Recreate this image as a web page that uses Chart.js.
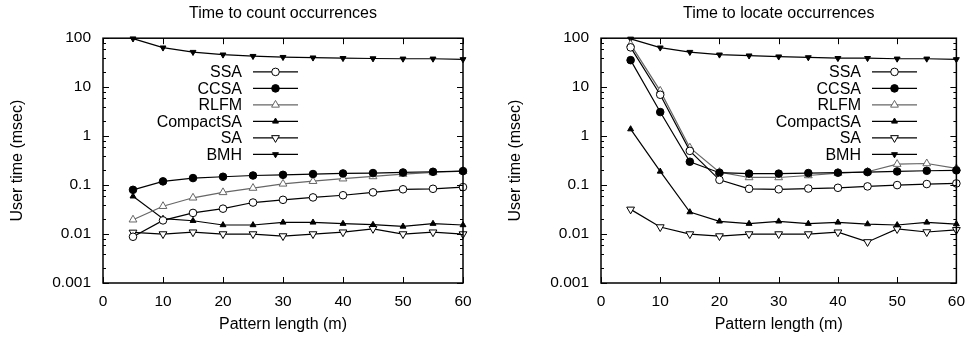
<!DOCTYPE html>
<html>
<head>
<meta charset="utf-8">
<script src="https://cdn.jsdelivr.net/npm/chart.js@4/dist/chart.umd.min.js"></script>
<style>
  html, body { margin: 0; padding: 0; background: #fff; }
  .row { display: flex; width: 974px; height: 337px; }
  .box { width: 487px; height: 337px; position: relative; }
</style>
</head>
<body>
<div class="row">
  <div class="box"><canvas id="graficoCount" width="487" height="337"></canvas></div>
  <div class="box"><canvas id="graficoLocate" width="487" height="337"></canvas></div>
</div>
<script>
// pattern length m (x axis)
const patternLengths = [5, 10, 15, 20, 25, 30, 35, 40, 45, 50, 55, 60];
const xTickValues = [0, 10, 20, 30, 40, 50, 60];
const yTickValues = [0.001, 0.01, 0.1, 1, 10, 100];

// time to count occurrences (msec)
const countSSA = [0.0088, 0.019, 0.027, 0.033, 0.044, 0.050, 0.056, 0.062, 0.071, 0.082, 0.084, 0.091];
const countCCSA = [0.080, 0.119, 0.139, 0.148, 0.157, 0.162, 0.168, 0.173, 0.176, 0.181, 0.187, 0.193];
const countRLFM = [0.0196, 0.037, 0.055, 0.071, 0.087, 0.106, 0.120, 0.135, 0.150, 0.168, 0.181, 0.193];
const countCompactSA = [0.059, 0.0206, 0.0187, 0.0153, 0.0153, 0.0173, 0.0173, 0.0163, 0.0155, 0.0143, 0.0163, 0.0153];
const countSA = [0.0108, 0.0100, 0.0109, 0.0100, 0.0100, 0.0091, 0.0100, 0.0109, 0.0128, 0.0100, 0.0109, 0.0100];
const countBMH = [98, 64, 52, 46, 43, 41, 40, 39, 38.5, 38, 38, 37];

// time to locate occurrences (msec)
const locateSSA = [65, 7.0, 0.50, 0.128, 0.084, 0.082, 0.085, 0.088, 0.094, 0.100, 0.105, 0.108];
const locateCCSA = [35.6, 3.1, 0.30, 0.179, 0.171, 0.171, 0.176, 0.179, 0.184, 0.190, 0.196, 0.200];
const locateRLFM = [75, 8.4, 0.58, 0.184, 0.143, 0.143, 0.157, 0.176, 0.187, 0.268, 0.276, 0.219];
const locateCompactSA = [1.39, 0.19, 0.0281, 0.0182, 0.0163, 0.0182, 0.0163, 0.0173, 0.0160, 0.0153, 0.0173, 0.0160];
const locateSA = [0.0319, 0.0139, 0.0100, 0.0091, 0.0100, 0.0100, 0.0100, 0.0109, 0.0069, 0.0127, 0.0110, 0.0122];
const locateBMH = [97, 64, 52, 46, 44, 42, 40.5, 39, 39, 38, 38, 37];

const FONT = '"Liberation Sans", Arial, Helvetica, sans-serif';

const estilos = {
  SSA:       { cor: '#000', fundo: '#fff', forma: 'circle',   rot: 0,   raio: 3.8 },
  CCSA:      { cor: '#000', fundo: '#000', forma: 'circle',   rot: 0,   raio: 3.8 },
  RLFM:      { cor: '#666', fundo: '#fff', forma: 'triangle', rot: 0,   raio: 4.5 },
  CompactSA: { cor: '#000', fundo: '#000', forma: 'triangle', rot: 0,   raio: 3.4 },
  SA:        { cor: '#000', fundo: '#fff', forma: 'triangle', rot: 180, raio: 4.5 },
  BMH:       { cor: '#000', fundo: '#000', forma: 'triangle', rot: 180, raio: 3.4 }
};

function montarSerie(nome, valores) {
  const e = estilos[nome];
  return {
    label: nome,
    data: patternLengths.map((m, i) => ({ x: m, y: valores[i] })),
    borderColor: e.cor,
    borderWidth: 1.2,
    pointStyle: e.forma,
    pointRotation: e.rot,
    pointRadius: e.raio,
    pointBorderWidth: 1,
    pointBorderColor: e.cor,
    pointBackgroundColor: e.fundo,
    tension: 0,
    fill: false,
    clip: false
  };
}

// gnuplot style frame with inward ticks on all four sides
const molduraPlugin = {
  id: 'moldura',
  afterDatasetsDraw(chart) {
    const ctx = chart.ctx;
    const a = chart.chartArea;
    const x = chart.scales.x, y = chart.scales.y;
    ctx.save();
    ctx.strokeStyle = '#000';
    ctx.lineWidth = 1;
    ctx.beginPath();
    xTickValues.forEach(v => {
      const px = Math.round(x.getPixelForValue(v)) + 0.5;
      ctx.moveTo(px, a.bottom); ctx.lineTo(px, a.bottom - 6);
      ctx.moveTo(px, a.top); ctx.lineTo(px, a.top + 6);
    });
    yTickValues.forEach((d, i) => {
      const py = Math.round(y.getPixelForValue(d)) + 0.5;
      ctx.moveTo(a.left, py); ctx.lineTo(a.left + 6, py);
      ctx.moveTo(a.right, py); ctx.lineTo(a.right - 6, py);
      if (i < yTickValues.length - 1) {
        [2, 4, 6, 8].forEach(k => {
          const pm = Math.round(y.getPixelForValue(d * k)) + 0.5;
          ctx.moveTo(a.left, pm); ctx.lineTo(a.left + 3, pm);
          ctx.moveTo(a.right, pm); ctx.lineTo(a.right - 3, pm);
        });
      }
    });
    ctx.stroke();
    ctx.lineWidth = 1.5;
    ctx.strokeRect(a.left, a.top, a.right - a.left, a.bottom - a.top);
    ctx.restore();
  }
};

// legend: right aligned text, then line sample with marker
const legendaPlugin = {
  id: 'legendaGnuplot',
  afterDatasetsDraw(chart, args, opts) {
    const ctx = chart.ctx;
    const a = chart.chartArea;
    ctx.save();
    ctx.font = '16px ' + FONT;
    ctx.textAlign = 'right';
    ctx.textBaseline = 'middle';
    chart.data.datasets.forEach((ds, i) => {
      const yy = a.top + opts.topo + i * opts.passo;
      const xr = a.left + opts.textoDireita;
      ctx.fillStyle = '#000';
      ctx.fillText(ds.label, xr, yy + 1);
      ctx.strokeStyle = ds.borderColor;
      ctx.lineWidth = 1.2;
      ctx.beginPath();
      ctx.moveTo(xr + 11, yy); ctx.lineTo(xr + 56, yy);
      ctx.stroke();
      ctx.lineWidth = 1;
      ctx.fillStyle = ds.pointBackgroundColor;
      ctx.strokeStyle = ds.pointBorderColor;
      Chart.helpers.drawPoint(ctx, {
        pointStyle: ds.pointStyle,
        rotation: ds.pointRotation,
        radius: ds.pointRadius,
        borderWidth: 1
      }, xr + 33.5, yy);
    });
    ctx.restore();
  }
};

function criarGrafico(id, titulo, series, larguraY, padDireita, tituloYPad, legendaX) {
  return new Chart(document.getElementById(id), {
    type: 'line',
    data: { datasets: series },
    options: {
      responsive: false,
      animation: false,
      devicePixelRatio: 1,
      layout: { padding: { left: 0, right: padDireita, top: 0, bottom: 0 } },
      plugins: {
        legend: { display: false },
        tooltip: { enabled: false },
        title: {
          display: true,
          text: titulo,
          fullSize: false,
          color: '#000',
          font: { family: FONT, size: 16, weight: 'normal' },
          padding: { top: 4, bottom: 15 }
        },
        legendaGnuplot: { topo: 33.7, passo: 16.5, textoDireita: legendaX }
      },
      scales: {
        x: {
          type: 'linear',
          min: 0,
          max: 60,
          grid: { display: false, drawTicks: false },
          border: { display: false },
          afterBuildTicks: s => { s.ticks = xTickValues.map(v => ({ value: v })); },
          afterFit: s => { s.height = 54; },
          ticks: {
            color: '#000',
            padding: 9,
            maxRotation: 0,
            font: { family: FONT, size: 15.5 }
          },
          title: {
            display: true,
            text: 'Pattern length (m)',
            color: '#000',
            font: { family: FONT, size: 16 },
            padding: { top: 0, bottom: 3 }
          }
        },
        y: {
          type: 'logarithmic',
          min: 0.001,
          max: 100,
          grid: { display: false, drawTicks: false },
          border: { display: false },
          afterBuildTicks: s => { s.ticks = yTickValues.map(v => ({ value: v })); },
          afterFit: s => { s.width = larguraY; },
          ticks: {
            color: '#000',
            padding: 12,
            font: { family: FONT, size: 15.5 },
            callback: v => String(v)
          },
          title: {
            display: true,
            text: 'User time (msec)',
            color: '#000',
            font: { family: FONT, size: 16 },
            padding: { top: tituloYPad, bottom: 0 }
          }
        }
      }
    },
    plugins: [molduraPlugin, legendaPlugin]
  });
}

const graficoCount = criarGrafico('graficoCount', 'Time to count occurrences', [
  montarSerie('SSA', countSSA),
  montarSerie('CCSA', countCCSA),
  montarSerie('RLFM', countRLFM),
  montarSerie('CompactSA', countCompactSA),
  montarSerie('SA', countSA),
  montarSerie('BMH', countBMH)
], 103, 24, 8, 139);

const graficoLocate = criarGrafico('graficoLocate', 'Time to locate occurrences', [
  montarSerie('SSA', locateSSA),
  montarSerie('CCSA', locateCCSA),
  montarSerie('RLFM', locateRLFM),
  montarSerie('CompactSA', locateCompactSA),
  montarSerie('SA', locateSA),
  montarSerie('BMH', locateBMH)
], 114, 13, 19, 260);
</script>
</body>
</html>
